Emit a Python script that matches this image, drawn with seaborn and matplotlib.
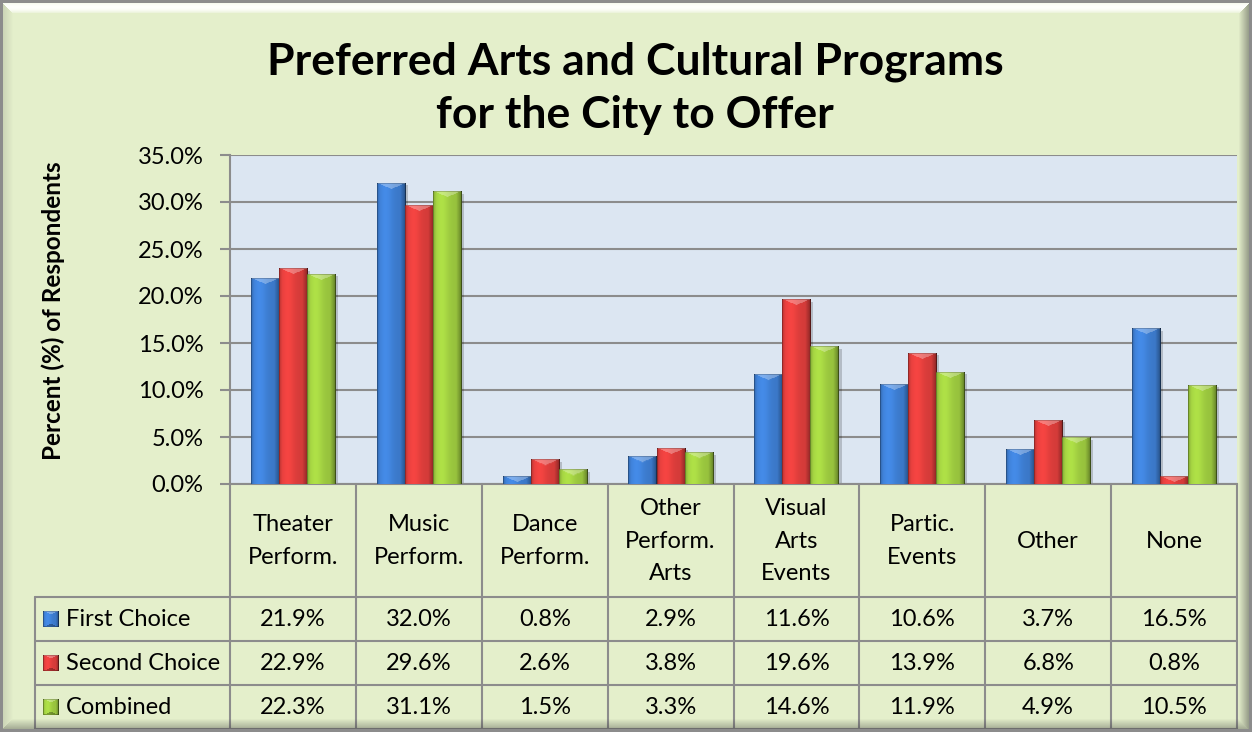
import numpy as np
import pandas as pd
import matplotlib
matplotlib.use("Agg")
import matplotlib.pyplot as plt
import matplotlib.transforms as mtransforms
from matplotlib.colors import to_rgb
from matplotlib.lines import Line2D
from matplotlib.patches import Rectangle
import seaborn as sns

# ---- data -------------------------------------------------------------
categories = ["Theater\nPerform.", "Music\nPerform.", "Dance\nPerform.",
              "Other\nPerform.\nArts", "Visual\nArts\nEvents", "Partic.\nEvents",
              "Other", "None"]
series = ["First Choice", "Second Choice", "Combined"]
first_choice = [21.9, 32.0, 0.8, 2.9, 11.6, 10.6, 3.7, 16.5]
second_choice = [22.9, 29.6, 2.6, 3.8, 19.6, 13.9, 6.8, 0.8]
combined = [22.3, 31.1, 1.5, 3.3, 14.6, 11.9, 4.9, 10.5]
y_ticks = [0, 5, 10, 15, 20, 25, 30, 35]

title = "Preferred Arts and Cultural Programs\nfor the City to Offer"
y_label = "Percent (%) of Respondents"

# ---- style --------------------------------------------------------------
colors = ["#3B78C8", "#D43B39", "#97C23D"]
bg = "#E4EFCB"
plot_bg = "#DCE6F2"
grid_col = "#8C8C8C"

W, H = 1252, 732
sns.set_theme(style="white")
plt.rcParams["font.family"] = ["Lato", "DejaVu Sans"]
for key in ["text.color", "axes.labelcolor", "xtick.color", "ytick.color"]:
    plt.rcParams[key] = "black"
FS = 17

values = [first_choice, second_choice, combined]
df = pd.DataFrame({
    "category": np.repeat([categories], 3, axis=0).ravel(),
    "series": np.repeat(series, len(categories)),
    "value": np.concatenate(values),
})

fig = plt.figure(figsize=(W / 100, H / 100), dpi=100, facecolor=bg)
ax = fig.add_axes([230 / W, 1 - 484 / H, 1007 / W, 329 / H])
ax.set_facecolor(plot_bg)

sns.barplot(data=df, x="category", y="value", hue="series", order=categories,
            hue_order=series, palette=colors, width=0.67, ax=ax,
            legend=False, saturation=1, errorbar=None)

ax.set_xlim(-0.5, len(categories) - 0.5)
ax.set_ylim(0, 35)
ax.set_xticks([])
ax.set_xlabel("")
ax.set_yticks(y_ticks)
ax.set_yticklabels([f"{t:.1f}%" for t in y_ticks], fontsize=FS, color="black")
ax.tick_params(axis="y", length=7, width=1.5, color=grid_col, pad=12, left=True)
ax.yaxis.grid(True, color=grid_col, linewidth=1.5)
ax.set_axisbelow(True)
for side in ["top", "right"]:
    ax.spines[side].set_visible(False)
for side in ["left", "bottom"]:
    ax.spines[side].set_color(grid_col)
    ax.spines[side].set_linewidth(1.5)
ax.set_ylabel(y_label, fontsize=17.5, fontweight="bold")
ax.yaxis.set_label_coords((65 - 230) / 1007, (484 - 311) / 329)


def bevel_image(color, wpx, hpx, key=False):
    """Shaded bar face: soft horizontal gradient with an angled top bevel."""
    nx = max(int(round(wpx)), 2)
    ny = max(int(round(hpx)), 2)
    c = np.array(to_rgb(color))
    U, V = np.meshgrid(np.arange(nx) + 0.5, np.arange(ny) + 0.5)
    t = U / nx
    shade = 1.0 + 0.16 * np.exp(-((t - 0.3) / 0.25) ** 2) \
        - 0.35 * np.clip((t - 0.8) / 0.2, 0, 1) - 0.15 * np.clip((0.12 - t) / 0.12, 0, 1)
    img = np.clip(c[None, None, :] * shade[..., None], 0, 1)
    top = V < 0.42 * np.minimum(U, nx - U)
    img[top] = img[top] + (1 - img[top]) * 0.3
    if key:
        bottom = (ny - V) < 0.42 * np.minimum(U, nx - U)
        img[bottom] = img[bottom] * 0.7
    img[:, 0] *= 0.75
    img[:, -1] *= 0.6
    img[0, :] = img[0, :] * 0.8
    return img


# replace flat bar faces with shaded images drawn at the same positions
px_per_x = ax.transData.transform((1, 0))[0] - ax.transData.transform((0, 0))[0]
px_per_y = ax.transData.transform((0, 1))[1] - ax.transData.transform((0, 0))[1]
for container, col in zip(ax.containers, colors):
    for bar in container:
        x0, w, h = bar.get_x(), bar.get_width(), bar.get_height()
        bar.set_visible(False)
        ax.add_patch(Rectangle((x0 + 3 / px_per_x, -2 / px_per_y), w, h,
                               facecolor="black", alpha=0.18, zorder=2.5,
                               linewidth=0))
        ax.imshow(bevel_image(col, w * px_per_x, h * px_per_y),
                  extent=[x0, x0 + w, 0, h], aspect="auto", zorder=3,
                  interpolation="bilinear")
ax.set_xlim(-0.5, len(categories) - 0.5)
ax.set_ylim(0, 35)

# ---- data table under the axis ----------------------------------------
def fy(ypix):
    return 1 - ypix / H


blend = mtransforms.blended_transform_factory(ax.transData, fig.transFigure)
line_kw = dict(color=grid_col, linewidth=1.5, clip_on=False, zorder=5)
row_lines = [597, 641, 685, 729]
row_centers = [619, 663, 707]

for k in range(len(categories) + 1):
    fig.add_artist(Line2D([k - 0.5, k - 0.5], [fy(484), fy(H)], transform=blend, **line_kw))
left_px = 35
x_left = ax.transData.inverted().transform((left_px, 0))[0]
for yl in row_lines:
    fig.add_artist(Line2D([x_left, len(categories) - 0.5], [fy(yl), fy(yl)],
                          transform=blend, **line_kw))
fig.add_artist(Line2D([x_left, x_left], [fy(597), fy(H)], transform=blend, **line_kw))

for i, cat in enumerate(categories):
    fig.text(i, fy(541), cat, transform=blend, ha="center", va="center",
             fontsize=FS, linespacing=1.7)
    for r, vals in enumerate(values):
        fig.text(i, fy(row_centers[r]), f"{vals[i]:.1f}%", transform=blend,
                 ha="center", va="center", fontsize=FS)

for r, (name, col) in enumerate(zip(series, colors)):
    yc = row_centers[r]
    kax = fig.add_axes([43 / W, fy(yc + 8), 16 / W, 16 / H])
    kax.imshow(bevel_image(col, 16, 16, key=True), aspect="auto",
               interpolation="bilinear")
    kax.axis("off")
    fig.text(66 / W, fy(yc), name, ha="left", va="center", fontsize=FS)

# ---- title --------------------------------------------------------------
fig.text(635 / W, fy(88), title, ha="center", va="center", fontsize=32,
         fontweight="bold", linespacing=1.4)

# ---- bevelled frame around the whole chart -----------------------------
B = 13
yy, xx = np.mgrid[0:H, 0:W]
d_top, d_bot, d_left, d_right = yy, H - 1 - yy, xx, W - 1 - xx
dmin = np.minimum.reduce([d_top, d_bot, d_left, d_right])
frame = np.zeros((H, W, 4))
inside = dmin < B
prof = np.clip(1 - dmin / B, 0, 1)
top_m = inside & (d_top == dmin)
right_m = inside & (d_right == dmin) & ~top_m
bot_m = inside & (d_bot == dmin) & ~top_m & ~right_m
left_m = inside & (d_left == dmin) & ~top_m & ~right_m & ~bot_m
frame[top_m, :3] = 1.0
frame[top_m, 3] = 0.95 * np.sin(np.pi * np.clip(dmin[top_m] / B, 0, 1)) ** 0.7
frame[right_m, :3] = 0.2
frame[right_m, 3] = 0.55 * prof[right_m]
frame[bot_m, :3] = 0.2
frame[bot_m, 3] = 0.45 * prof[bot_m]
frame[left_m, :3] = 0.3
frame[left_m, 3] = 0.2 * prof[left_m]
edge = dmin < 3
frame[edge, :3] = 0.55
frame[edge, 3] = 1.0
fig.figimage(frame, 0, 0, origin="upper", zorder=20)

fig.savefig("out.png", dpi=100, facecolor=bg)
